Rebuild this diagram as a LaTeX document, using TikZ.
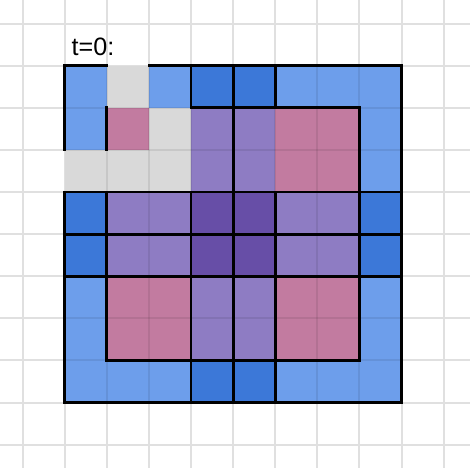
\documentclass[tikz,border=0pt]{standalone}
\usepackage{fontspec}
\setmainfont{Liberation Sans}
\definecolor{lb}{HTML}{6D9EEB}
\definecolor{db}{HTML}{3C78D8}
\definecolor{pk}{HTML}{C27BA0}
\definecolor{pu}{HTML}{8E7CC3}
\definecolor{dp}{HTML}{674EA7}
\definecolor{gr}{HTML}{D9D9D9}
\definecolor{gridgray}{HTML}{E0E0E0}
\begin{document}
\begin{tikzpicture}[x=1cm,y=1cm,
  gridl/.style={draw=gridgray, line width=1.35pt},
  faint/.style={draw=black, draw opacity=0.08, line width=1.35pt},
  blk/.style={draw=black, line width=1.9pt, line cap=rect}]
\useasboundingbox (-1.537,-1.556) rectangle (9.627,9.561);
\fill[white] (-1.537,-1.556) rectangle (9.627,9.561);
\foreach \k in {-1,...,9} {
  \draw[gridl] (\k,-1.556) -- (\k,9.561);
  \draw[gridl] (-1.537,\k) -- (9.627,\k);
}
\foreach \row [count=\r from 0] in {
  {lb,gr,lb,db,db,lb,lb,lb},
  {lb,pk,gr,pu,pu,pk,pk,lb},
  {gr,gr,gr,pu,pu,pk,pk,lb},
  {db,pu,pu,dp,dp,pu,pu,db},
  {db,pu,pu,dp,dp,pu,pu,db},
  {lb,pk,pk,pu,pu,pk,pk,lb},
  {lb,pk,pk,pu,pu,pk,pk,lb},
  {lb,lb,lb,db,db,lb,lb,lb}} {
  \foreach \col [count=\c from 0] in \row {
    \fill[\col] (\c,7-\r) rectangle ++(1,1);
  }
}
\foreach \k in {1,...,7} {
  \draw[faint] (\k,0) -- (\k,8);
  \draw[faint] (0,\k) -- (8,\k);
}
% black borders (visible parts)
\draw[blk] (0,8) -- (1,8) (2,8) -- (8,8)
  (3,7) -- (7,7)
  (0,5) -- (8,5) (0,4) -- (8,4) (0,3) -- (8,3)
  (1,1) -- (7,1) (0,0) -- (8,0);
\draw[blk] (0,0) -- (0,5) (0,6) -- (0,8) (8,0) -- (8,8)
  (1,1) -- (1,5) (1,6) -- (1,7) (7,1) -- (7,7)
  (3,0) -- (3,5) (3,7) -- (3,8) (4,0) -- (4,8)
  (5,0) -- (5,5) (5,7) -- (5,8);
\node[anchor=base west, inner sep=0, font=\fontsize{17}{20}\selectfont] (lbl) at (0.16,8.254) {t=0:};
\end{tikzpicture}
\end{document}
